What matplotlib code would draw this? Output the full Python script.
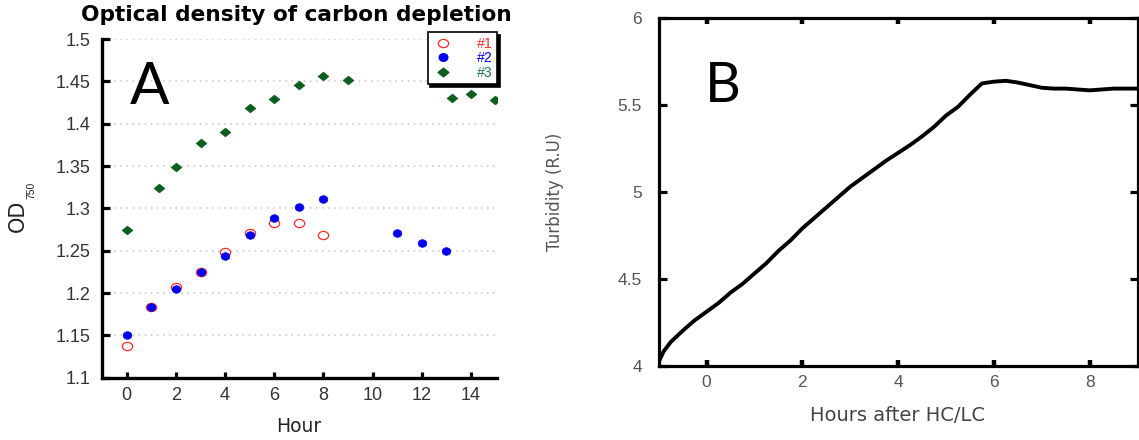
import matplotlib
matplotlib.use("Agg")
import matplotlib.pyplot as plt
from matplotlib.path import Path
from matplotlib.transforms import Affine2D
from matplotlib.lines import Line2D

# ---------------- data ----------------
# Panel A: OD750 of three cultures during carbon depletion
hours_1 = [0, 1, 2, 3, 4, 5, 6, 7, 8]
od_1 = [1.137, 1.184, 1.207, 1.225, 1.248, 1.271, 1.283, 1.283, 1.269]

hours_2 = [0, 1, 2, 3, 4, 5, 6, 7, 8, 11, 12, 13]
od_2 = [1.151, 1.1835, 1.205, 1.2245, 1.244, 1.2685, 1.289, 1.3015, 1.311,
        1.2705, 1.259, 1.2495]

hours_3 = [0, 1.3, 2, 3, 4, 5, 6, 7, 8, 9, 13.25, 14, 15]
od_3 = [1.275, 1.324, 1.349, 1.377, 1.390, 1.418, 1.429, 1.446, 1.456, 1.452,
        1.430, 1.435, 1.428]

series_labels = ["#1", "#2", "#3"]
xticks_a = [0, 2, 4, 6, 8, 10, 12, 14]
yticks_a = [1.1, 1.15, 1.2, 1.25, 1.3, 1.35, 1.4, 1.45, 1.5]

# Panel B: turbidity trace after the HC -> LC shift
hours_b = [-1.0, -0.9, -0.75, -0.5, -0.25, 0.0, 0.25, 0.5, 0.75, 1.0, 1.25,
           1.5, 1.75, 2.0, 2.25, 2.5, 2.75, 3.0, 3.25, 3.5, 3.75, 4.0, 4.25,
           4.5, 4.75, 5.0, 5.25, 5.5, 5.75, 6.0, 6.25, 6.5, 6.75, 7.0, 7.25,
           7.5, 7.75, 8.0, 8.25, 8.5, 8.75, 9.0]
turbidity_b = [4.02, 4.08, 4.135, 4.20, 4.26, 4.31, 4.36, 4.42, 4.47, 4.53,
               4.59, 4.66, 4.72, 4.79, 4.85, 4.91, 4.97, 5.03, 5.08, 5.13,
               5.18, 5.225, 5.27, 5.32, 5.375, 5.44, 5.49, 5.56, 5.625,
               5.635, 5.64, 5.63, 5.615, 5.60, 5.595, 5.595, 5.59, 5.585,
               5.59, 5.595, 5.595, 5.595]
xticks_b = [0, 2, 4, 6, 8]
yticks_b = [4, 4.5, 5, 5.5, 6]
yticklabels_b = ["4", "4.5", "5", "5.5", "6"]

# ---------------- styling ----------------
plt.rcParams["font.family"] = ["DejaVu Sans"]
W, H = 1139, 440
fig = plt.figure(figsize=(W / 100, H / 100), dpi=100)


def axes_px(left, top, right, bottom):
    return fig.add_axes([left / W, 1 - bottom / H, (right - left) / W, (bottom - top) / H])


RED = "#ff2a2a"
BLUE = "#0000ee"
GREEN = "#0b5e1c"

ellipse = Path.unit_circle().transformed(Affine2D().scale(1.0, 0.8))
dot = Path.unit_circle().transformed(Affine2D().scale(1.0, 0.88))
diamond = Path([(0, 1), (1.25, 0), (0, -1), (-1.25, 0), (0, 1)],
               [Path.MOVETO, Path.LINETO, Path.LINETO, Path.LINETO, Path.CLOSEPOLY])

# ---------------- panel A ----------------
axA = axes_px(101.7, 39, 496.7, 377.7)
axA.set_xlim(-1.02, 15.05)
axA.set_ylim(1.1, 1.5)

axA.plot(hours_1, od_1, ls="none", marker=ellipse, ms=7.4, mfc="none",
         mec=RED, mew=0.9, zorder=3)
axA.plot(hours_2, od_2, ls="none", marker=dot, ms=6.2, mfc=BLUE,
         mec=BLUE, mew=0.5, zorder=4)
axA.plot(hours_3, od_3, ls="none", marker=diamond, ms=7.8, mfc=GREEN,
         mec=GREEN, mew=0.5, zorder=3)

axA.set_xticks(xticks_a)
axA.set_yticks(yticks_a)
axA.set_yticklabels([f"{v:g}" for v in yticks_a])
for s in ("top", "right"):
    axA.spines[s].set_visible(False)
for s in ("left", "bottom"):
    axA.spines[s].set_linewidth(2.4)
axA.tick_params(axis="x", direction="in", length=4.3, width=2.3, pad=6.5,
                labelsize=13, labelcolor="#333333")
axA.tick_params(axis="y", direction="in", length=5.8, width=2.3, pad=8,
                labelsize=13, labelcolor="#333333")
for lab in axA.get_xticklabels() + axA.get_yticklabels():
    lab.set_fontfamily("Liberation Sans")
axA.yaxis.grid(True, linestyle=(0, (1, 3)), color="#c4c4c4", linewidth=1.1)
axA.set_axisbelow(True)

axA.set_xlabel("Hour", fontsize=13.5, color="#222222")
axA.xaxis.set_label_coords(0.4995, -0.1447)
axA.xaxis.label.set_va("center")

fig.text(17.5 / W, 1 - 216 / H, "OD", rotation=90, fontsize=15,
         color="#222222", ha="center", va="center")
fig.text(31 / W, 1 - 190.5 / H, "750", rotation=90, fontsize=7.5,
         family="Liberation Sans", color="#222222", ha="center", va="center")

fig.text(296 / W, 1 - 15 / H, "Optical density of carbon depletion",
         fontsize=15.6, fontweight="bold", ha="center", va="center")
fig.text(150 / W, 1 - 88 / H, "A", family="Lato", fontsize=42,
         ha="center", va="center")

handles = [
    Line2D([], [], ls="none", marker=ellipse, ms=7.4, mfc="none", mec=RED, mew=0.9),
    Line2D([], [], ls="none", marker=dot, ms=6.2, mfc=BLUE, mec=BLUE),
    Line2D([], [], ls="none", marker=diamond, ms=7.8, mfc=GREEN, mec=GREEN),
]
leg = axA.legend(handles, series_labels, loc="upper left",
                 bbox_to_anchor=(427.7 / W, 1 - 32.3 / H),
                 bbox_transform=fig.transFigure, borderaxespad=0,
                 fontsize=10.2, labelcolor=[RED, BLUE, "#1f7a4a"],
                 handlelength=1.5, handletextpad=1.7, borderpad=0.3,
                 labelspacing=0.05, fancybox=False, framealpha=1,
                 shadow={"color": "black", "alpha": 1})
leg.get_frame().set_edgecolor("black")
leg.get_frame().set_linewidth(1.2)
for t in leg.get_texts():
    t.set_fontfamily("Liberation Sans")

# ---------------- panel B ----------------
axB = axes_px(658.7, 18.3, 1137.6, 365.5)
axB.set_xlim(-1, 9)
axB.set_ylim(4, 6)
axB.plot(hours_b, turbidity_b, color="black", lw=2.8, solid_joinstyle="round")

axB.set_xticks(xticks_b)
axB.set_yticks(yticks_b)
axB.set_yticklabels(yticklabels_b)
for s in axB.spines.values():
    s.set_linewidth(2.3)
axB.tick_params(axis="x", direction="in", length=4, width=3.2, pad=7,
                top=True, labelsize=12.5, labelcolor="#555555")
axB.tick_params(axis="y", direction="in", length=5.5, width=2.3, pad=12,
                right=True, labelsize=12.5, labelcolor="#555555")
for lab in axB.get_xticklabels() + axB.get_yticklabels():
    lab.set_fontfamily("Liberation Sans")

axB.set_xlabel("Hours after HC/LC", fontsize=14, color="#444444")
axB.xaxis.set_label_coords(0.4988, -0.1454)
axB.xaxis.label.set_va("center")
axB.set_ylabel("Turbidity (R.U)", fontsize=12, color="#555555")
axB.yaxis.set_label_coords(-0.2161, 0.501)
axB.yaxis.label.set_va("center")

fig.text(723 / W, 1 - 86.7 / H, "B", family="Lato", fontsize=40,
         ha="center", va="center")

fig.savefig("out.png", dpi=100)
